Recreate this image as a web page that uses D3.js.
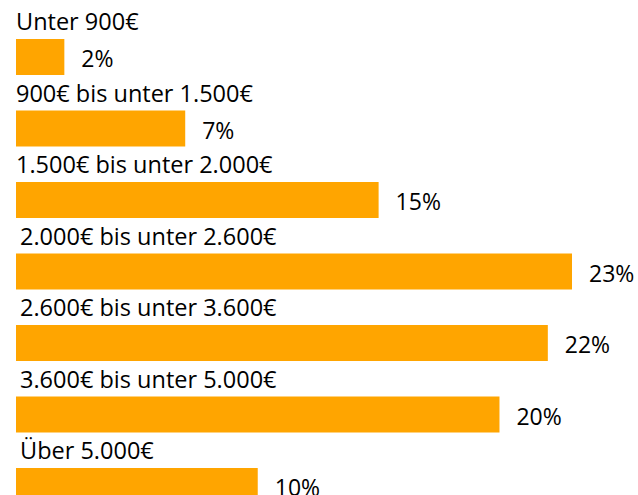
<!DOCTYPE html>
<html>
<head>
<meta charset="utf-8">
<script src="https://cdn.jsdelivr.net/npm/d3@7"></script>
<style>
  html, body { margin: 0; padding: 0; background: #fff; }
  svg { display: block; font-family: "Open Sans", sans-serif; }
</style>
</head>
<body>
<svg id="chart" width="638" height="495"></svg>
<script>
(function () {
    const categories = [
        "Unter 900€",
        "900€ bis unter 1.500€",
        "1.500€ bis unter 2.000€",
        "2.000€ bis unter 2.600€",
        "2.600€ bis unter 3.600€",
        "3.600€ bis unter 5.000€",
        "Über 5.000€"
    ];
    const shares = [2, 7, 15, 23, 22, 20, 10];
    const valueLabels = ["2%", "7%", "15%", "23%", "22%", "20%", "10%"];

    const BAR_FILL = "#FFA500";
    const LEFT = 16, ROW = 71.5, TOP = 3, BAR_H = 36;

    const svg = d3.select("#chart");

    const x = d3.scaleLinear().domain([0, 23]).range([0, 556]);
    const y = d3.scaleBand()
        .domain(categories)
        .range([TOP, TOP + ROW * categories.length])
        .padding(0);

    const rows = categories.map((c, i) => ({ cat: c, v: shares[i], lbl: valueLabels[i], i }));

    const g = svg.append("g");

    // category label above each bar (lower rows sit a little further in)
    g.selectAll("text.cat")
        .data(rows)
        .join("text")
        .attr("class", "cat")
        .attr("x", d => LEFT + (d.i >= 3 ? 4 : 0))
        .attr("y", d => y(d.cat) + 27)
        .attr("font-size", "23.5px")
        .attr("fill", "#000")
        .text(d => d.cat);

    g.selectAll("rect")
        .data(rows)
        .join("rect")
        .attr("x", LEFT)
        .attr("y", d => y(d.cat) + 36)
        .attr("width", d => x(d.v))
        .attr("height", BAR_H)
        .attr("fill", BAR_FILL);

    // percentage to the right of the bar
    g.selectAll("text.val")
        .data(rows)
        .join("text")
        .attr("class", "val")
        .attr("x", d => LEFT + x(d.v) + 17)
        .attr("y", d => y(d.cat) + 36 + 28)
        .attr("font-size", "23px")
        .attr("fill", "#000")
        .text(d => d.lbl);
})();
</script>
</body>
</html>
